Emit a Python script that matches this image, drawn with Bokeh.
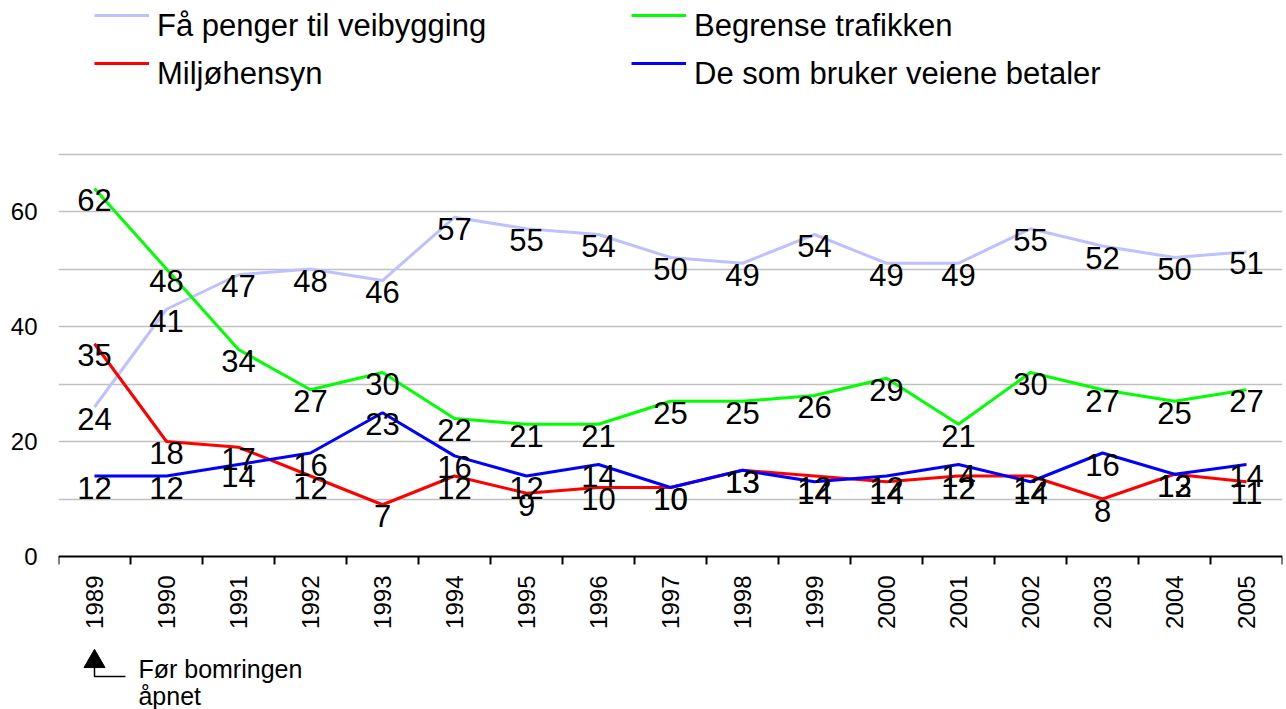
import math
from bokeh.plotting import figure
from bokeh.models import Range1d, FixedTicker, Legend, LegendItem
from bokeh.core.properties import value
from bokeh.embed import file_html
from bokeh.resources import INLINE

# ---------------- data ----------------
years = [1989, 1990, 1991, 1992, 1993, 1994, 1995, 1996, 1997,
         1998, 1999, 2000, 2001, 2002, 2003, 2004, 2005]

# Få penger til veibygging
penger = [24, 41, 47, 48, 46, 57, 55, 54, 50, 49, 54, 49, 49, 55, 52, 50, 51]
# Begrense trafikken
begrense = [62, 48, 34, 27, 30, 22, 21, 21, 25, 25, 26, 29, 21, 30, 27, 25, 27]
# Miljøhensyn: plotted level and printed label
miljo = [35, 18, 17, 12, 7, 12, 9, 10, 10, 13, 12, 11, 12, 12, 8, 12.3, 11]
miljo_lbl = [35, 18, 17, 12, 7, 12, 9, 10, 10, 13, 12, 14, 12, 12, 8, 13, 11]
# De som bruker veiene betaler: plotted level and printed label
brukere = [12, 12, 14, 16, 23, 15.5, 12, 14, 10, 13, 11, 12, 14, 11, 16, 12.3, 14]
brukere_lbl = [12, 12, 14, 16, 23, 16, 12, 14, 10, 13, 14, 12, 14, 14, 16, 12, 14]

series_names = ["Få penger til veibygging", "Begrense trafikken",
                "Miljøhensyn", "De som bruker veiene betaler"]
y_tick_values = [0, 20, 40, 60]
grid_values = [10, 20, 30, 40, 50, 60, 70]
note_lines = ["Før bomringen", "åpnet"]

FONT = value("Liberation Sans")

# ---------------- figure ----------------
p = figure(width=1286, height=709, output_backend="svg", toolbar_location=None,
           x_range=Range1d(1988.5, 2005.5), y_range=Range1d(-26.61, 96.70),
           min_border_left=58, min_border_right=4, min_border_top=0,
           min_border_bottom=0)
p.outline_line_color = None
p.background_fill_color = "white"
p.border_fill_color = "white"
# the lines sit slightly above their printed labels
p.extra_y_ranges = {"shift": Range1d(-28.61, 94.70)}

# grid
p.xgrid.visible = False
p.ygrid.ticker = FixedTicker(ticks=grid_values)
p.ygrid.grid_line_color = "#C0C0C0"
p.ygrid.grid_line_width = 1.5

# y axis
p.yaxis.ticker = FixedTicker(ticks=y_tick_values, minor_ticks=[])
p.yaxis.axis_line_color = None
p.yaxis.major_tick_line_color = None
p.yaxis.major_tick_out = 0
p.yaxis.major_tick_in = 0
p.yaxis.minor_tick_line_color = None
p.yaxis.major_label_text_font = "Liberation Sans"
p.yaxis.major_label_text_font_size = "24px"
p.yaxis.major_label_text_color = "black"
p.yaxis.major_label_standoff = 21

# x axis
p.xaxis.fixed_location = 0
p.xaxis.ticker = FixedTicker(ticks=years,
                             minor_ticks=[y - 0.5 for y in years] + [years[-1] + 0.5])
p.xaxis.major_label_overrides = {y: str(y) for y in years}
p.xaxis.major_label_orientation = math.pi / 2
p.xaxis.major_label_text_font = "Liberation Sans"
p.xaxis.major_label_text_font_size = "24px"
p.xaxis.major_label_text_color = "black"
p.xaxis.major_label_standoff = 11
p.xaxis.major_tick_in = 0
p.xaxis.major_tick_out = 0
p.xaxis.minor_tick_in = 0
p.xaxis.minor_tick_out = 8
p.xaxis.minor_tick_line_color = "black"
p.xaxis.minor_tick_line_width = 2
p.xaxis.axis_line_color = "black"
p.xaxis.axis_line_width = 2

# ---------------- lines ----------------
colors = ["#C0C0FF", "#00FF00", "#FF0000", "#0000FF"]
levels = [penger, begrense, miljo, brukere]
labels = [penger, begrense, miljo_lbl, brukere_lbl]
renderers = []
for vals, col in zip(levels, colors):
    r = p.line(years, vals, line_color=col, line_width=3, y_range_name="shift")
    renderers.append(r)

# ---------------- data labels ----------------
for vals, lbl in zip(levels, labels):
    p.text(x=years, y=vals, text=[str(v) for v in lbl], text_font=FONT,
           text_font_size="31px", text_color="black", text_align="center",
           text_baseline="middle")

# ---------------- legends ----------------
# legend swatches sit level with the top of their texts, so the swatches
# and the texts are laid out by two legends each
ghost = p.line(x=[], y=[], line_alpha=0)

def common(lg):
    lg.orientation = "vertical"
    lg.padding = 0
    lg.margin = 0
    lg.border_line_color = None
    lg.background_fill_alpha = 0
    lg.glyph_width = 55
    lg.label_standoff = 8
    return lg

def swatch_legend(rs, loc):
    lg = Legend(items=[LegendItem(label=" ", renderers=[r]) for r in rs],
                location=loc, glyph_height=14, label_height=14, spacing=34,
                label_text_font_size="1px", label_width=1)
    return common(lg)

def text_legend(names, loc):
    lg = Legend(items=[LegendItem(label=n, renderers=[ghost]) for n in names],
                location=loc, glyph_height=14, label_height=14, spacing=12,
                label_text_font="Liberation Sans", label_text_font_size="31px",
                label_text_color="black")
    return common(lg)

p.add_layout(swatch_legend([renderers[0], renderers[2]], (36, 639)))
p.add_layout(swatch_legend([renderers[1], renderers[3]], (573, 639)))
p.add_layout(text_legend([series_names[0], series_names[2]], (36, 617)))
p.add_layout(text_legend([series_names[1], series_names[3]], (573, 617)))

# ---------------- note below the axis ----------------
p.scatter(x=[years[0]], y=[-18.26], marker="triangle", size=21,
          fill_color="black", line_color="black")
p.line(x=[years[0], years[0], 1989.43], y=[-19.3, -20.87, -20.87],
       line_color="black", line_width=1.5)
p.text(x=[1989.61, 1989.61], y=[-19.65, -24.18], text=note_lines,
       text_font=FONT, text_font_size="25px", text_color="black",
       text_align="left", text_baseline="alphabetic")

open("out.html", "w").write(file_html(p, INLINE))
